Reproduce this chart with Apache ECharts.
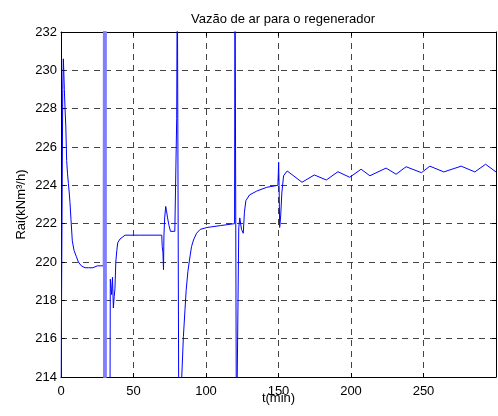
<!DOCTYPE html>
<html>
<head>
<meta charset="utf-8">
<script src="https://cdn.jsdelivr.net/npm/echarts@6/dist/echarts.min.js"></script>
<style>html,body{margin:0;padding:0;background:#fff}#c{width:498px;height:416px}</style>
</head>
<body>
<div id="c"></div>
<script>
const titleText = 'Vazão de ar para o regenerador';
const xName = 't(min)';
const yName = 'Rai(kNm³/h)';
const xTicks = [0, 50, 100, 150, 200, 250];
const yTicks = [214, 216, 218, 220, 222, 224, 226, 228, 230, 232];

const t = [
  0, 0.3, 0.8, 1.2, 1.6, 1.9, 2.3, 2.8, 3.3, 3.9, 4.5, 5.1, 5.7, 6.2, 6.9, 7.8, 9, 10.5, 12, 14, 16.6, 19, 22, 25, 27, 29.2,
  29.3, 29.45, 29.6, 29.75, 29.9, 30.05, 30.2, 30.35, 30.5, 30.65, 30.8, 30.95, 31.1, 31.25, 31.4,
  33.7, 34.0, 34.4, 34.9, 35.5, 36.1, 36.7, 37.2, 37.8, 38.5, 39.1, 40.7, 42, 44.2, 55, 69.5, 69.8, 70.3, 70.7, 71.0, 71.5, 72.2, 72.7, 73.5, 74.5, 75.5, 78.5, 79.3, 79.8, 80.2,
  81.3, 82.5, 83.0, 84.4, 85.5, 86.3, 87.5, 88.6, 90, 91.4, 93.5, 96, 100.6, 110, 119.7, 120.0, 120.8, 121.0, 122.3,
  122.6, 123.3, 124.5, 125.7, 126.5, 127.5, 130, 135, 142, 149.6, 150.1, 150.4, 150.8, 151.5, 152.3, 153.5, 156,
  166.2, 174.7, 183, 191, 199.1, 207, 213, 224.2, 231.1, 238, 248.6, 254.4, 264, 276, 285.4, 292.8, 300
];
const rai = [
  210, 216.9, 217, 229, 230.6, 230, 229, 228, 227.1, 225.3, 224.6, 224.1, 223.6, 223.1, 222.2, 221.1, 220.6, 220.3, 220.0, 219.8, 219.7, 219.7, 219.7, 219.8, 219.8, 219.8,
  236, 210, 236, 210, 236, 210, 236, 210, 236, 210, 236, 210, 236, 210, 210,
  210, 219.1, 219.2, 218.3, 219.2, 217.6, 218.2, 218.6, 220, 220.6, 221.0, 221.2, 221.3, 221.4, 221.4, 221.4, 220.8, 220.5, 219.6, 221.4, 222.3, 222.9, 222.7, 222.3, 221.9, 221.6, 221.6, 221.7, 227.5, 236,
  210, 210, 213.5, 216.1, 217.5, 218.5, 219.5, 220.1, 220.8, 221.15, 221.5, 221.7, 221.8, 221.9, 222.0, 236, 236, 210, 210,
  221.8, 222.3, 221.7, 221.5, 222.6, 223.2, 223.5, 223.7, 223.9, 224.0, 225.2, 224.0, 221.8, 222.4, 223.6, 224.5, 224.75,
  224.16, 224.54, 224.28, 224.71, 224.42, 224.84, 224.5, 224.9, 224.58, 224.97, 224.66, 225.0, 224.7, 225.0, 224.7, 225.1, 224.7
];

const data = t.map((v, i) => [v, rai[i]]);
const font = 'Liberation Sans, Arial, sans-serif';
const chart = echarts.init(document.getElementById('c'));
chart.setOption({
  animation: false,
  backgroundColor: '#fff',
  title: {
    text: titleText, left: 278, top: 8, textAlign: 'center',
    textStyle: { fontFamily: font, fontSize: 13, fontWeight: 'normal', color: '#000' }
  },
  grid: { left: 61, right: 2, top: 32, bottom: 39, containLabel: false, outerBoundsMode: 'none' },
  visualMap: {
    show: false, type: 'piecewise', dimension: 0, seriesIndex: 0,
    pieces: [
      { lt: 29.25, color: '#0000ff' },
      { gte: 29.25, lte: 31.45, color: '#8080ff' },
      { gt: 31.45, color: '#0000ff' }
    ]
  },
  xAxis: [{
    type: 'value', min: 0, max: 300, interval: 50,
    name: xName, nameLocation: 'middle', nameGap: 15, nameMoveOverlap: false,
    nameTextStyle: { fontFamily: font, fontSize: 13, color: '#000' },
    axisLine: { show: true, onZero: false, lineStyle: { color: '#000', width: 1 } },
    axisTick: { show: true, inside: true, length: 4, lineStyle: { color: '#000' } },
    axisLabel: { fontFamily: font, fontSize: 13, color: '#000', margin: 8, showMaxLabel: false,
      formatter: v => xTicks.indexOf(v) >= 0 ? String(v) : '' },
    splitLine: { show: true, lineStyle: { color: '#444', type: [6, 5], width: 1 } }
  }, {
    type: 'value', min: 0, max: 300, interval: 50, position: 'top',
    axisLine: { show: true, onZero: false, lineStyle: { color: '#000', width: 1 } },
    axisTick: { show: true, inside: true, length: 4, lineStyle: { color: '#000' } },
    axisLabel: { show: false }, splitLine: { show: false }
  }],
  yAxis: [{
    type: 'value', min: 214, max: 232, interval: 2,
    name: yName, nameLocation: 'middle', nameGap: 33, nameRotate: 90, nameMoveOverlap: false,
    nameTextStyle: { fontFamily: font, fontSize: 13, color: '#000' },
    axisLine: { show: true, onZero: false, lineStyle: { color: '#000', width: 1 } },
    axisTick: { show: true, inside: true, length: 4, lineStyle: { color: '#000' } },
    axisLabel: { fontFamily: font, fontSize: 13, color: '#000', margin: 4,
      formatter: v => yTicks.indexOf(v) >= 0 ? String(v) : '' },
    splitLine: { show: true, lineStyle: { color: '#444', type: [6, 5], width: 1 } }
  }, {
    type: 'value', min: 214, max: 232, interval: 2, position: 'right',
    axisLine: { show: true, onZero: false, lineStyle: { color: '#000', width: 1 } },
    axisTick: { show: true, inside: true, length: 4, lineStyle: { color: '#000' } },
    axisLabel: { show: false }, splitLine: { show: false }
  }],
  series: [{
    type: 'line', data: data, xAxisIndex: 0, yAxisIndex: 0,
    showSymbol: false, symbol: 'none', clip: true,
    lineStyle: { width: 1 }
  }]
});
</script>
</body>
</html>
